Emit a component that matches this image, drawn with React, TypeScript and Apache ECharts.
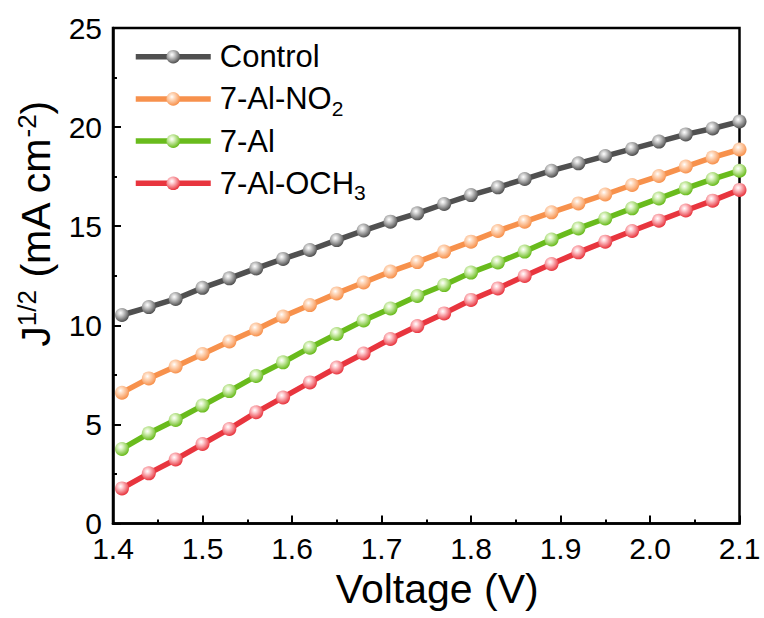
import React, { useEffect, useRef } from "react";
import * as echarts from "echarts";

const voltages = [1.41, 1.44, 1.47, 1.5, 1.53, 1.56, 1.59, 1.62, 1.65, 1.68, 1.71, 1.74, 1.77, 1.8, 1.83, 1.86, 1.89, 1.92, 1.95, 1.98, 2.01, 2.04, 2.07, 2.1];

const controlValues = [10.52, 10.92, 11.33, 11.89, 12.37, 12.87, 13.35, 13.8, 14.3, 14.78, 15.23, 15.65, 16.12, 16.57, 16.96, 17.38, 17.8, 18.17, 18.54, 18.9, 19.27, 19.63, 19.93, 20.28];
const no2Values = [6.6, 7.32, 7.92, 8.55, 9.18, 9.79, 10.44, 11.02, 11.61, 12.16, 12.71, 13.19, 13.72, 14.22, 14.76, 15.23, 15.7, 16.15, 16.6, 17.08, 17.53, 18.01, 18.47, 18.87];
const alValues = [3.76, 4.55, 5.22, 5.95, 6.68, 7.44, 8.13, 8.87, 9.56, 10.24, 10.85, 11.48, 12.03, 12.66, 13.17, 13.72, 14.33, 14.89, 15.39, 15.9, 16.4, 16.91, 17.38, 17.8];
const och3Values = [1.77, 2.53, 3.23, 4.01, 4.77, 5.61, 6.36, 7.12, 7.87, 8.58, 9.31, 9.96, 10.6, 11.28, 11.86, 12.49, 13.09, 13.68, 14.22, 14.76, 15.28, 15.79, 16.29, 16.83];

const seriesNames = ["Control", "7-Al-NO2", "7-Al", "7-Al-OCH3"];
const legendLabels: Record<string, string> = {
  Control: "Control",
  "7-Al-NO2": "7-Al-NO{sub|2}",
  "7-Al": "7-Al",
  "7-Al-OCH3": "7-Al-OCH{sub|3}",
};
const seriesColors = ["#505050", "#f7914c", "#69bb1c", "#e8353e"];
const highlightColors = ["#d8d8d8", "#ffe0c8", "#e0f5c8", "#ffd0d4"];

const FONT = "Liberation Sans, Arial, sans-serif";

export default function App() {
  const ref = useRef<HTMLDivElement>(null);
  useEffect(() => {
    if (!ref.current) return;
    const chart = echarts.init(ref.current, null, { renderer: "svg" });
    const allValues = [controlValues, no2Values, alValues, och3Values];
    const series = seriesNames.map((name, i) => ({
      name,
      type: "line",
      data: voltages.map((v, j) => [v, allValues[i][j]]),
      symbol: "circle",
      symbolSize: 14,
      showSymbol: true,
      clip: false,
      lineStyle: { color: seriesColors[i], width: 5.5 },
      itemStyle: {
        color: {
          type: "radial",
          x: 0.4,
          y: 0.35,
          r: 0.65,
          colorStops: [
            { offset: 0, color: "#ffffff" },
            { offset: 0.25, color: highlightColors[i] },
            { offset: 1, color: seriesColors[i] },
          ],
        },
        borderWidth: 0,
      },
      z: 10 - i,
    }));
    chart.setOption({
      animation: false,
      backgroundColor: "#ffffff",
      grid: {
        left: 113,
        right: 24.5,
        top: 28,
        bottom: 94.5,
        show: true,
        borderColor: "#000",
        borderWidth: 2.5,
        backgroundColor: "transparent",
      },
      legend: {
        orient: "vertical",
        left: 128,
        top: 31.7,
        itemWidth: 75,
        itemHeight: 17,
        itemGap: 2.2,
        data: seriesNames,
        formatter: (name: string) => legendLabels[name],
        lineStyle: { width: 5.5 },
        textStyle: {
          fontFamily: FONT,
          fontSize: 31,
          color: "#000",
          lineHeight: 40,
          padding: [0, 0, 0, 4],
          rich: {
            sub: {
              fontFamily: FONT,
              fontSize: 21,
              lineHeight: 20,
              verticalAlign: "bottom",
              color: "#000",
            },
          },
        },
      },
      xAxis: {
        type: "value",
        min: 1.4,
        max: 2.1,
        interval: 0.1,
        name: "Voltage (V)",
        nameLocation: "middle",
        nameGap: 42,
        nameTextStyle: {
          fontFamily: FONT,
          fontSize: 41,
          color: "#000",
          padding: [0, 0, 0, 22],
        },
        axisLine: { show: true, lineStyle: { color: "#000", width: 2.5 } },
        axisTick: { show: true, inside: true, length: 8, lineStyle: { color: "#000", width: 2 } },
        minorTick: { show: true, splitNumber: 2, length: 4, lineStyle: { color: "#000", width: 2 } },
        splitLine: { show: false },
        axisLabel: {
          fontFamily: FONT,
          fontSize: 30,
          color: "#000",
          margin: 13,
          lineHeight: 24,
          formatter: (v: number) => v.toFixed(1),
        },
      },
      yAxis: {
        type: "value",
        min: 0,
        max: 25,
        interval: 5,
        name: "J{sup|1/2} (mA cm{sup|-2})",
        nameLocation: "middle",
        nameRotate: 90,
        nameGap: 51,
        nameTextStyle: {
          fontFamily: FONT,
          fontSize: 41,
          color: "#000",
          lineHeight: 44,
          padding: [0, 0, 0, 104],
          rich: {
            sup: {
              fontFamily: FONT,
              fontSize: 26,
              lineHeight: 22,
              verticalAlign: "top",
              color: "#000",
            },
          },
        },
        axisLine: { show: true, lineStyle: { color: "#000", width: 2.5 } },
        axisTick: { show: true, inside: true, length: 8, lineStyle: { color: "#000", width: 2 } },
        minorTick: { show: true, splitNumber: 2, length: 4, lineStyle: { color: "#000", width: 2 } },
        splitLine: { show: false },
        axisLabel: {
          fontFamily: FONT,
          fontSize: 30,
          color: "#000",
          margin: 11,
          lineHeight: 22,
        },
      },
      series,
    });
    return () => chart.dispose();
  }, []);
  return (
    <div
      ref={ref}
      style={{ position: "fixed", left: 0, top: 0, width: 764, height: 618, background: "#fff" }}
    />
  );
}
